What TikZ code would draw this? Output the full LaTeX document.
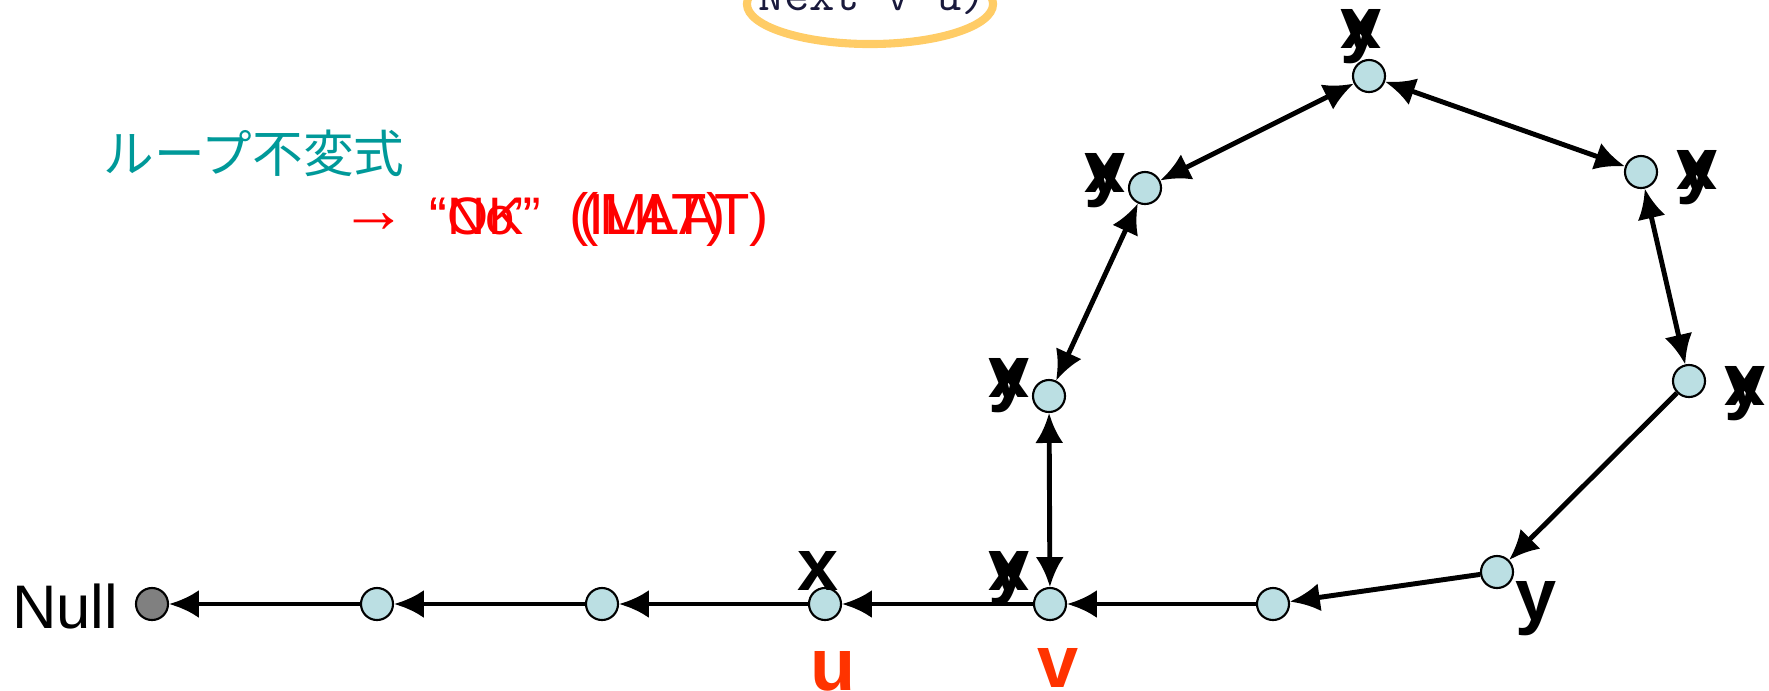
\documentclass[tikz,border=0pt]{standalone}
\usepackage{fontspec}
\setmainfont{Liberation Sans}
\newfontfamily\jpfont{Noto Sans CJK JP}
\usetikzlibrary{arrows.meta}
\definecolor{cellfill}{RGB}{187,223,227}
\definecolor{nullfill}{RGB}{128,128,128}
\definecolor{invteal}{RGB}{0,153,153}
\definecolor{markred}{RGB}{255,51,0}
\definecolor{ringorange}{RGB}{255,204,102}
\definecolor{codeink}{RGB}{25,25,60}
% x and y written over each other
\newcommand{\xandy}{\ooalign{\hfil x\hfil\cr\hfil y\hfil}}
\begin{document}
\begin{tikzpicture}[x=0.01cm, y=-0.01cm,
  cell/.style={circle, draw, fill=cellfill, minimum size=0.32cm, inner sep=0pt, line width=0.6pt},
  ptr/.style={line width=1.4pt, -{Latex[length=8.5pt,width=8pt]}},
  bptr/.style={line width=1.4pt, {Latex[length=8.5pt,width=8pt]}-{Latex[length=8.5pt,width=8pt]}},
  var/.style={inner sep=0pt, anchor=base, font=\fontsize{21}{21}\selectfont\bfseries}]
  \clip (0,0) rectangle (1769,690);

  % code line at the top, ringed
  \node[inner sep=0pt, anchor=base west, text=codeink, font=\ttfamily\fontsize{14}{14}\selectfont] (code) at (758,10) {Next v u)};
  \draw[ringorange, line width=2.3pt] (870,4) ellipse [x radius=1.23cm, y radius=0.40cm];

  \node[inner sep=0pt, anchor=west, text=invteal, font=\jpfont\fontsize{14.4}{14.4}\selectfont] (inv) at (103,153) {ループ不変式};
  \node[inner sep=0pt, anchor=base west, text=red, font=\fontsize{19}{19}\selectfont] (imp) at (340,232) {→};
  \node[inner sep=0pt, anchor=base west, text=red, font=\fontsize{15}{15}\selectfont] (verdict) at (429,234)
    {\ooalign{“OK”\hspace{11pt}{\fontsize{16.5}{16.5}\selectfont(MLAT)}\cr “No”\hspace{10.5pt}{\fontsize{16.5}{16.5}\selectfont(ILAT)}\cr}};

  \node[circle, draw, fill=nullfill, minimum size=0.32cm, inner sep=0pt, line width=0.6pt] (null) at (152,604) {};
  \node[inner sep=0pt, anchor=base east, font=\fontsize{17.5}{17.5}\selectfont] (nulltxt) at (119,628) {Null};
  \node[cell] (n1) at (377,604) {};
  \node[cell] (n2) at (602,604) {};
  \node[cell] (u) at (825,604) {};
  \node[cell] (v) at (1050,604) {};
  \node[cell] (n5) at (1273,604) {};
  \node[cell] (n6) at (1497,572) {};
  \node[cell] (n7) at (1689,381) {};
  \node[cell] (n8) at (1641,172) {};
  \node[cell] (n9) at (1369,76) {};
  \node[cell] (n10) at (1145,188) {};
  \node[cell] (n11) at (1049,396) {};

  \draw[ptr] (n1) -- (null);
  \draw[ptr] (n2) -- (n1);
  \draw[ptr] (u) -- (n2);
  \draw[ptr] (v) -- (u);
  \draw[ptr] (n5) -- (v);
  \draw[ptr] (n6) -- (n5);
  \draw[ptr] (n7) -- (n6);
  \draw[bptr] (n7) -- (n8);
  \draw[bptr] (n8) -- (n9);
  \draw[bptr] (n9) -- (n10);
  \draw[bptr] (n10) -- (n11);
  \draw[bptr] (n11) -- (v);

  \node[var] (xu) at (818,590) {x};
  \node[var] (xyv) at (1009,590) {\xandy};
  \node[var] (xy11) at (1009,397) {\xandy};
  \node[var] (xy10) at (1105,192) {\xandy};
  \node[var] (xy9) at (1361,48) {\xandy};
  \node[var] (xy8) at (1697,189) {\xandy};
  \node[var] (xy7) at (1745,405) {\xandy};
  \node[var] (y6) at (1536,620) {y};
  \node[var, text=markred] (lu) at (833,690) {u};
  \node[var, text=markred] (lv) at (1058,687) {v};
\end{tikzpicture}
\end{document}
